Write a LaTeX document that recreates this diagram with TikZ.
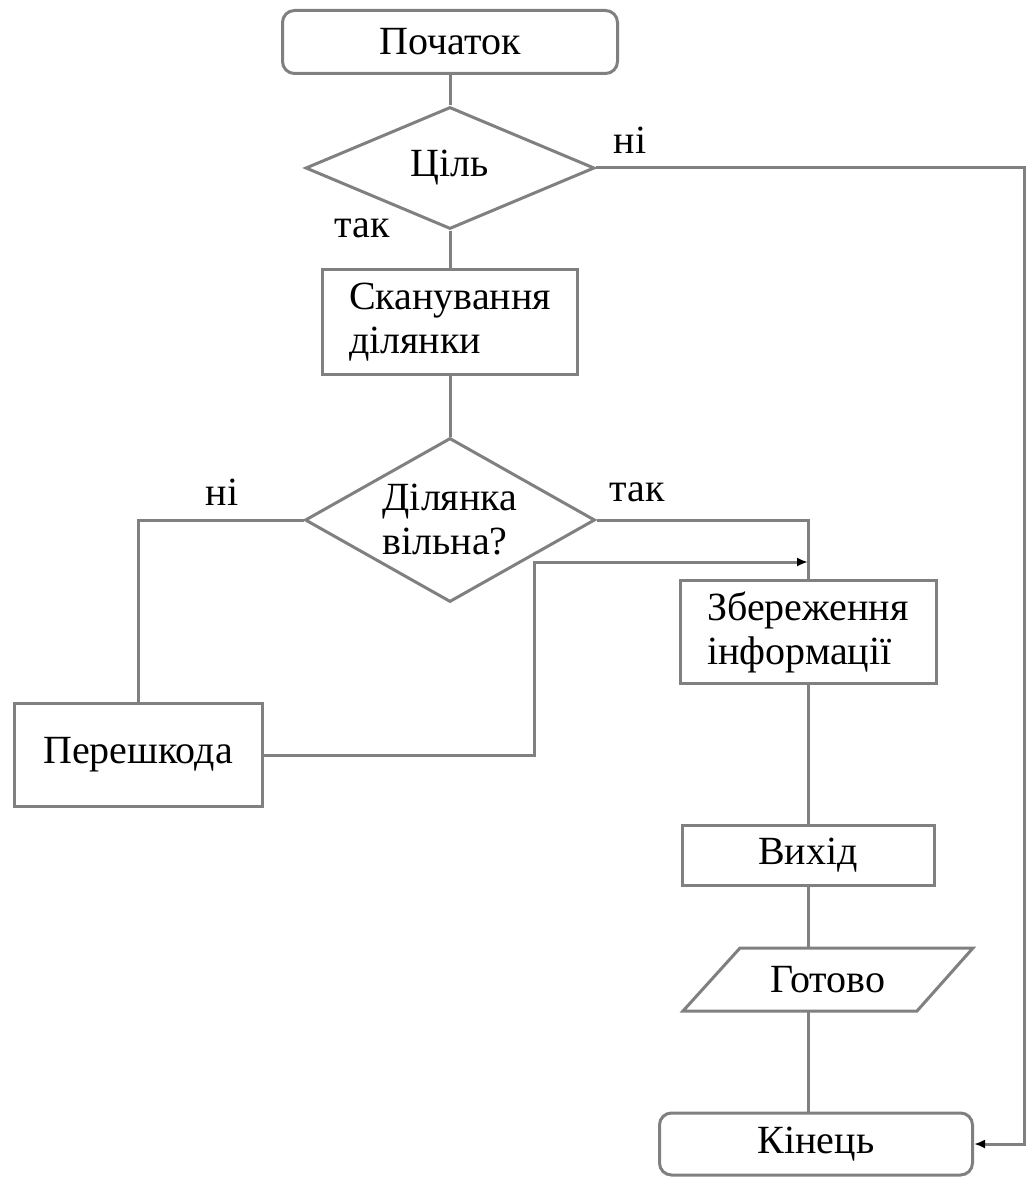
\documentclass[tikz,border=0pt]{standalone}
\usepackage{fontspec}
\setmainfont{Liberation Serif}
\usetikzlibrary{shapes.geometric,arrows.meta,calc}
\definecolor{linegray}{RGB}{128,128,128}
\begin{document}
\begin{tikzpicture}[x=1pt,y=-1pt,
  txt/.style={font=\fontsize{40}{44}\selectfont,text=black},
  conn/.style={draw=linegray,line width=3pt},
  arr/.style={conn,-{Latex[length=11pt,width=9pt,color=black]}},
  boxnode/.style={txt,draw=linegray,line width=3pt,rectangle,inner sep=0pt},
  termnode/.style={boxnode,rounded corners=12pt},
  decnode/.style={txt,draw=linegray,line width=3pt,diamond,inner sep=0pt},
  lbl/.style={txt}]
\useasboundingbox (0,0) rectangle (1031,1177);
\fill[white] (0,0) rectangle (1031,1177);

\node[termnode,minimum width=335pt,minimum height=63pt] (start) at (450,42) {Початок};
\node[decnode,minimum width=289pt,minimum height=122pt,aspect=2.4] (goal) at (450,168) {Ціль};
\node[boxnode,minimum width=255pt,minimum height=105pt,align=left] (scan) at (450,322) {Сканування\\ділянки};
\node[decnode,minimum width=290pt,minimum height=164pt,aspect=1.77,align=left] (free) at (450,520) {Ділянка\\вільна?};
\node[boxnode,minimum width=248pt,minimum height=103pt] (obst) at (138,755) {Перешкода};
\node[boxnode,minimum width=256pt,minimum height=103pt,align=left] (save) at (808,632) {Збереження\\інформації};
\node[boxnode,minimum width=252pt,minimum height=60pt] (exit) at (808,855) {Вихід};
\node[txt,minimum width=234pt,minimum height=63pt,inner sep=0pt] (ready) at (828,980) {Готово};
\draw[conn] (740,948) -- (973,948) -- (917,1011) -- (683,1011) -- cycle;
\node[termnode,minimum width=313pt,minimum height=62pt] (end) at (816,1144) {Кінець};

\node[lbl] (l1) at (630,140) {ні};
\node[lbl] (l2) at (362,228) {так};
\node[lbl] (l3) at (222,492) {ні};
\node[lbl] (l4) at (637,492) {так};

\coordinate (rightcorner) at (1024,168);
\coordinate (bend) at (534,562);
\coordinate (merge) at (808,562);
\coordinate (rtop) at (808,948);
\coordinate (rbot) at (808,1011);

\draw[conn] (start) -- (goal);
\draw[arr] (goal.east) -- (rightcorner) |- (end.east);
\draw[conn] (goal) -- (scan);
\draw[conn] (scan) -- (free);
\draw[conn] (free.west) -| (obst.north);
\draw[conn] (free.east) -| (save.north);
\draw[arr] (obst.east) -| (bend) -- (merge);
\draw[conn] (save) -- (exit);
\draw[conn] (exit) -- (rtop);
\draw[conn] (rbot) -- (rbot |- end.north);
\end{tikzpicture}
\end{document}
